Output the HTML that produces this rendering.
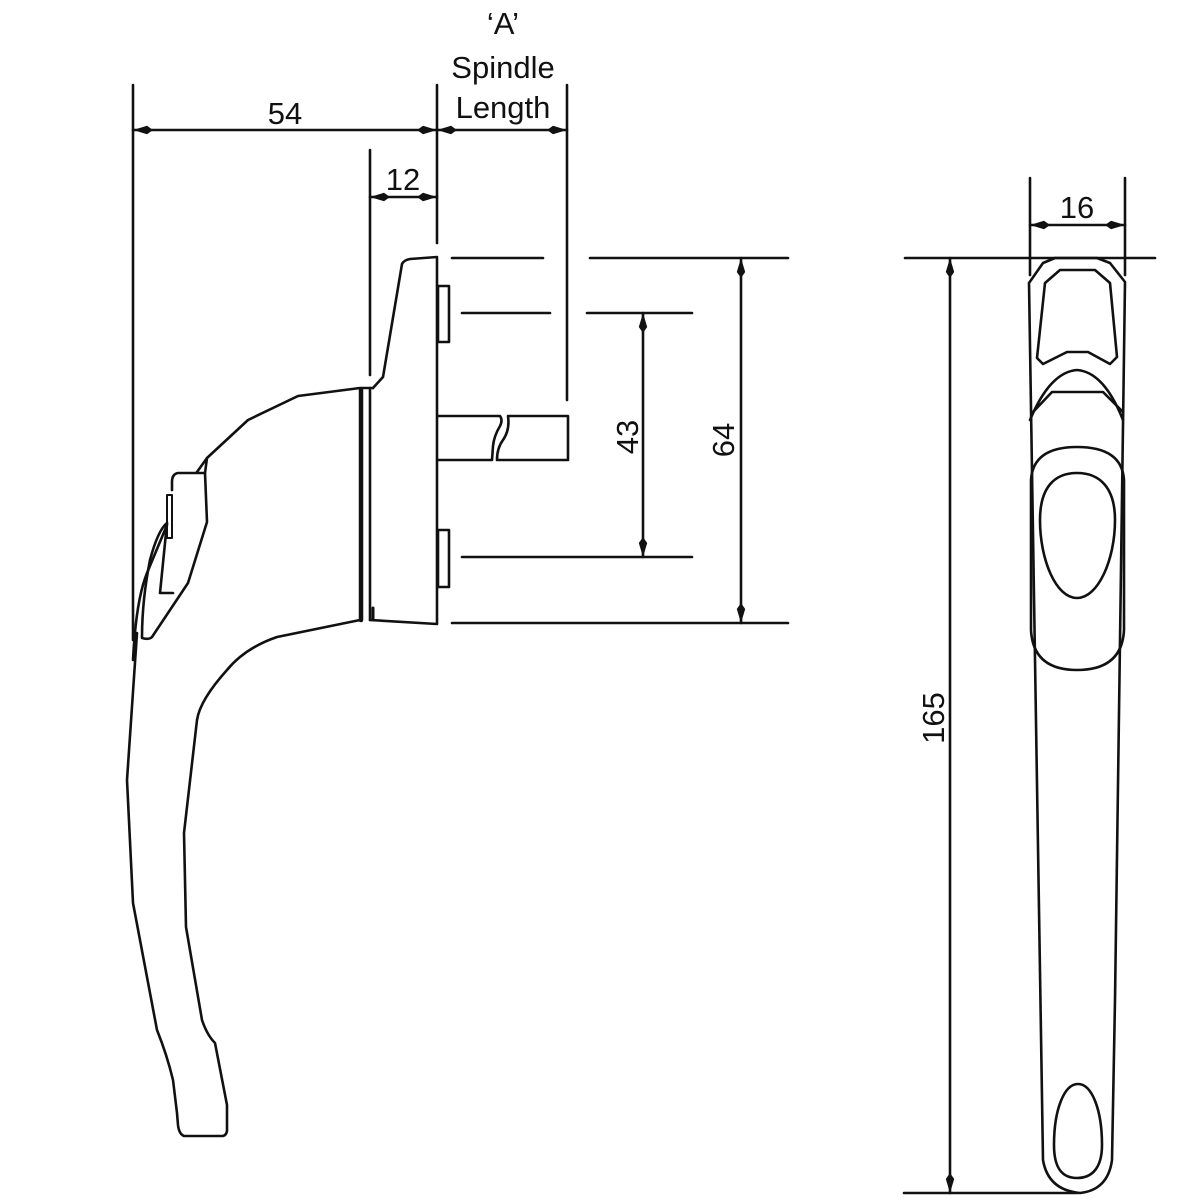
<!DOCTYPE html>
<html><head><style>html,body{margin:0;padding:0;background:#fff}svg{display:block}text{font-family:"Liberation Sans","DejaVu Sans",sans-serif;font-size:31px;fill:#111}</style></head>
<body>
<svg width="1200" height="1200" viewBox="0 0 1200 1200" xmlns="http://www.w3.org/2000/svg">
<defs>
<marker id="a" viewBox="0 0 20 10" refX="20" refY="5" markerWidth="20" markerHeight="10" markerUnits="userSpaceOnUse" orient="auto-start-reverse"><path d="M0,5 L6,0.8 L20,5 L6,9.2 Z" fill="#111"/></marker>
</defs>
<g stroke="#111" stroke-width="2.6" fill="none" stroke-linejoin="round" stroke-linecap="round">
<line x1="133" y1="85" x2="133" y2="640"/>
<line x1="437" y1="85" x2="437" y2="243"/>
<line x1="567" y1="85" x2="567" y2="400"/>
<line x1="370" y1="150" x2="370" y2="375"/>
<line x1="133" y1="130" x2="437" y2="130" marker-start="url(#a)" marker-end="url(#a)"/>
<line x1="437" y1="130" x2="567" y2="130" marker-start="url(#a)" marker-end="url(#a)"/>
<line x1="370" y1="197" x2="437" y2="197" marker-start="url(#a)" marker-end="url(#a)"/>
<line x1="452" y1="258" x2="543" y2="258"/><line x1="590" y1="258" x2="788" y2="258"/>
<line x1="462" y1="313" x2="550" y2="313"/><line x1="587" y1="313" x2="692" y2="313"/>
<line x1="462" y1="557" x2="692" y2="557"/>
<line x1="452" y1="623" x2="788" y2="623"/>
<line x1="643" y1="313" x2="643" y2="557" marker-start="url(#a)" marker-end="url(#a)"/>
<line x1="741" y1="258" x2="741" y2="623" marker-start="url(#a)" marker-end="url(#a)"/>
<path d="M373,388 L383,377 L402,264 Q404,260 410,259 L437,257 L437,624 L370,620"/>
<rect x="438" y="286" width="11" height="56"/>
<rect x="438" y="530" width="11" height="57"/>
<path d="M438,416 L500,416 Q503,420 500,426 Q494,436 493,446 L492,460 L438,460"/>
<path d="M508,416 L568,416 L568,460 L497,460 Q497,448 503,440 Q510,430 508,416"/>
<line x1="361" y1="390" x2="361" y2="620" stroke-width="4.5"/>
<line x1="370" y1="388" x2="370" y2="620"/>
<line x1="373" y1="608" x2="373" y2="620" stroke-width="3"/>
<path d="M373,388 L360,388 L298,396 L248,420 L207,458 L197,472"/>
<path d="M207,458 L205,473 L178,473 Q172,474 172,482 L172,490"/>
<path d="M205,473 L207,522 L188,583 L152,637 Q149,640 142,638 Q142,600 150,560 Q158,530 167,523"/>
<rect x="167" y="495" width="5" height="43" stroke-width="2"/>
<path d="M167,523 L160,593 L173,593"/>
<path d="M133,660 Q136,600 147,573 L167,525"/>
<path d="M360,620 L277,637 Q245,648 227,670 Q200,700 197,720 L184,833 L186,927 L202,1020 Q207,1035 215,1043 L227,1105 L227,1131 Q226,1136 222,1136 L184,1136 Q179,1134 178,1125 L177,1113 L173,1080 Q167,1055 157,1030 L133,903 L127,780 L137,633"/>
<line x1="1030" y1="178" x2="1030" y2="275"/>
<line x1="1125" y1="178" x2="1125" y2="275"/>
<line x1="1030" y1="225" x2="1125" y2="225" marker-start="url(#a)" marker-end="url(#a)"/>
<line x1="905" y1="258" x2="1155" y2="258"/>
<line x1="904" y1="1193" x2="1077" y2="1193"/>
<line x1="950" y1="258" x2="950" y2="1193" marker-start="url(#a)" marker-end="url(#a)"/>
<path d="M1029,283 L1043,263 L1055,258 L1097,258 L1110,263 L1125,282 L1115,1000 L1112,1160 Q1108,1190 1080,1193 Q1048,1190 1043,1160 L1029,283"/>
<path d="M1060,270 L1095,270 L1110,283 L1117,357 L1110,364 L1088,352 L1067,352 L1043,364 L1037,358 L1045,283 Z"/>
<path d="M1030,420 Q1050,372 1077,370 Q1104,372 1123,420"/>
<path d="M1033,412 L1052,392 L1103,392 L1123,412"/>
<path d="M1031,480 Q1033,447 1077,447 Q1122,447 1124,480 L1124,630 Q1122,670 1077,670 Q1033,670 1031,630 Z"/>
<path d="M1077,473 C1100,473 1115,488 1115,520 C1115,560 1098,598 1077,598 C1056,598 1040,560 1040,520 C1040,488 1054,473 1077,473 Z"/>
<path d="M1078,1084 C1092,1084 1102,1110 1102,1145 C1102,1168 1092,1178 1077,1178 C1062,1178 1054,1168 1054,1145 C1054,1110 1064,1084 1078,1084 Z"/>
</g>
<text x="285" y="124" text-anchor="middle">54</text>
<text x="403" y="190" text-anchor="middle">12</text>
<text x="503" y="34" text-anchor="middle">‘A’</text>
<text x="503" y="78" text-anchor="middle">Spindle</text>
<text x="503" y="118" text-anchor="middle">Length</text>
<text x="1077" y="218" text-anchor="middle">16</text>
<text transform="translate(638,437) rotate(-90)" text-anchor="middle">43</text>
<text transform="translate(734,440) rotate(-90)" text-anchor="middle">64</text>
<text transform="translate(944,718) rotate(-90)" text-anchor="middle">165</text>
</svg>
</body></html>
